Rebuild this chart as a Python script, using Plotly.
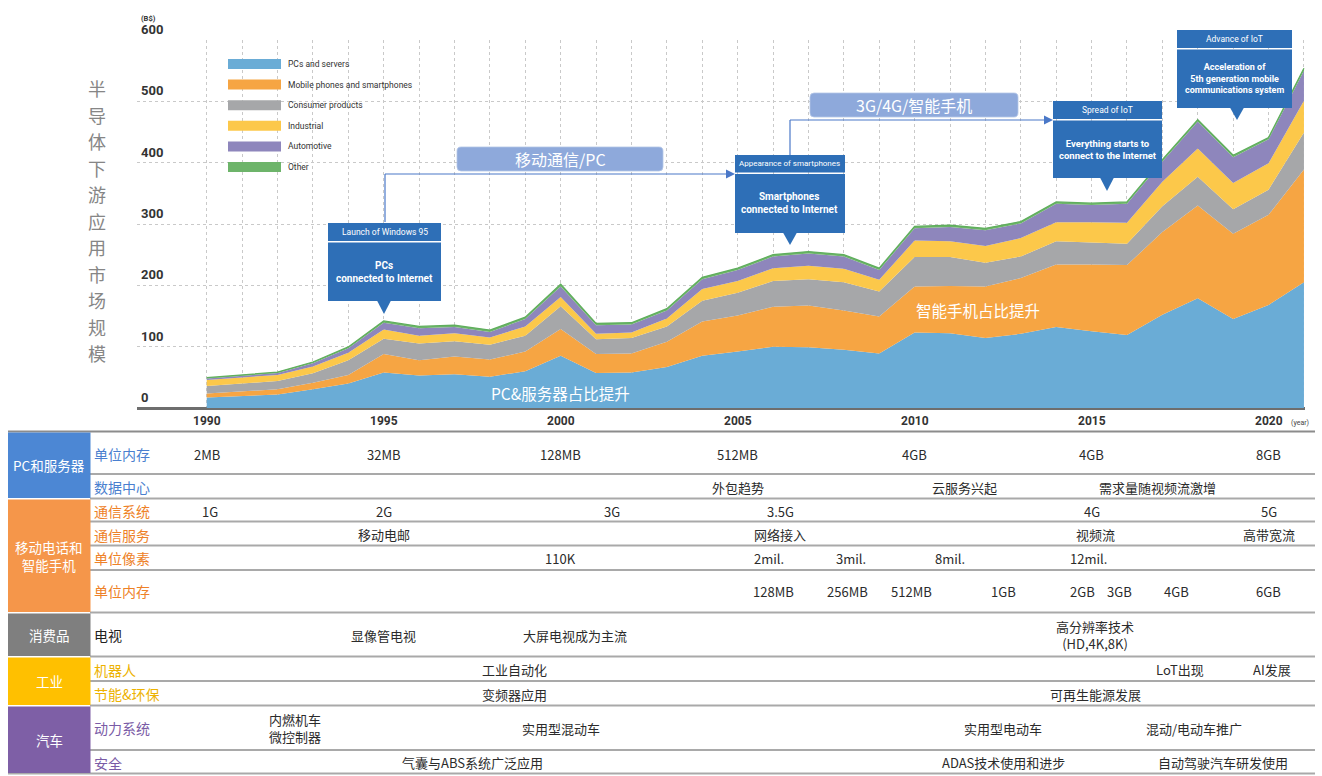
import plotly.graph_objects as go

W, H = 1322, 776


def X(px):
    return px / W


def Y(py):
    return 1 - py / H


# ---------------- data ----------------
years = list(range(1990, 2022))
pcs_servers = [17, 19.5, 22, 30.5, 40, 58, 53, 55, 51, 60, 85, 57, 58, 67, 85, 92, 100, 99, 95, 89,
               123, 122, 114, 121, 132, 125, 119, 152, 179, 145, 168, 205]
mobile_phones = [6.5, 7.5, 8.5, 10.5, 14, 30, 25, 29, 28, 32, 44, 31, 31, 41, 56, 59, 65, 68, 64, 60,
                 75, 77, 84, 91, 102, 109, 114, 135, 151, 139, 147, 184]
consumer = [12.5, 13, 13.5, 15.5, 24, 25, 27, 25, 24, 26, 37, 24, 25, 25, 34, 37, 42, 43, 46, 41,
            48, 47, 39, 35, 38, 36, 35, 42, 47, 40, 41, 60]
industrial = [9.5, 10, 10, 11, 12, 15, 13, 13, 12, 15, 15, 9, 9, 13, 19, 19, 21, 22, 22, 19,
              27, 26, 27, 30, 31, 33, 34, 40, 46, 43, 43, 52]
automotive = [2.5, 2.5, 3, 5.5, 7.5, 11, 12, 10, 9, 12, 17, 14, 13, 13, 16, 18, 19, 20, 20, 16,
              20, 23, 26, 24, 30, 28, 31, 33, 44, 42, 39, 49]
other = [1.5, 1.5, 1.5, 2, 2, 3, 3, 3, 3, 3, 4, 3, 3, 3, 3, 3, 3, 3, 3, 3,
         3, 3, 3, 3, 3, 3, 3, 3, 3, 3, 3, 4]

series_names = ["PCs and servers", "Mobile phones and smartphones", "Consumer products",
                "Industrial", "Automotive", "Other"]
series_values = [pcs_servers, mobile_phones, consumer, industrial, automotive, other]
series_colors = ["#6AACD6", "#F6A543", "#A6A7A9", "#FCC84A", "#8E86BC", "#6DB46A"]

y_ticks = [0, 100, 200, 300, 400, 500, 600]
x_label_years = [1990, 1995, 2000, 2005, 2010, 2015, 2020]

title_text = "半导体下游应用市场规模"

# table rows: (year position, text)
pc_memory = [(1990, "2MB"), (1995, "32MB"), (2000, "128MB"), (2005, "512MB"),
             (2010, "4GB"), (2015, "4GB"), (2020, "8GB")]
data_center = [(2005, "外包趋势"), (2011.4, "云服务兴起"), (2016.85, "需求量随视频流激增")]
comm_system = [(1990.1, "1G"), (1995, "2G"), (2001.45, "3G"), (2006.2, "3.5G"),
               (2015, "4G"), (2020, "5G")]
comm_service = [(1995, "移动电邮"), (2006.2, "网络接入"), (2015.1, "视频流"), (2020, "高带宽流")]
pixels = [(2000, "110K"), (2005.9, "2mil."), (2008.2, "3mil."), (2011, "8mil."), (2014.9, "12mil.")]
phone_memory = [(2006, "128MB"), (2008.1, "256MB"), (2009.9, "512MB"), (2012.5, "1GB"),
                (2014.75, "2GB"), (2015.8, "3GB"), (2017.4, "4GB"), (2020, "6GB")]
tv = [(1995, "显像管电视"), (2000.4, "大屏电视成为主流"), (2015.1, "高分辨率技术<br>(HD,4K,8K)")]
robot = [(1998.7, "工业自动化"), (2017.5, "LoT出现"), (2020.1, "AI发展")]
energy = [(1998.7, "变频器应用"), (2015.1, "可再生能源发展")]
powertrain = [(1992.5, "内燃机车<br>微控制器"), (2000, "实用型混动车"), (2012.5, "实用型电动车"),
              (2017.9, "混动/电动车推广")]
safety = [(1997.5, "气囊与ABS系统广泛应用"), (2012.5, "ADAS技术使用和进步"), (2018.7, "自动驾驶汽车研发使用")]

# ---------------- styles ----------------
NARROW = "Roboto, Liberation Sans, sans-serif"
CJK = "Noto Sans CJK SC, Noto Sans, sans-serif"
CALLOUT_BLUE = "#2E6FB7"
ARROW_BLUE = "#4A78C8"
LIGHT_BOX = "#8EA9DB"

fig = go.Figure()

for name, vals, color in zip(series_names, series_values, series_colors):
    is_top = name == "Other"
    fig.add_trace(go.Scatter(
        x=years, y=vals, name=name, mode="lines", stackgroup="one",
        line=dict(width=1.3 if is_top else 0, color="#5FAE5C" if is_top else color),
        fillcolor=color, hoverinfo="skip", showlegend=False,
    ))

shapes = []
ann = []

# ---------- y tick labels ----------
for v in y_ticks:
    ann.append(dict(x=X(139), xref="paper", y=v, yref="y", yanchor="bottom", xanchor="left",
                    yshift=1, text="<b>%d</b>" % v, showarrow=False,
                    font=dict(family=NARROW, size=13, color="#333333")))
ann.append(dict(x=X(139), xref="paper", y=Y(18), yref="paper", xanchor="left", yanchor="middle",
                text="<b>(B$)</b>", showarrow=False, font=dict(family=NARROW, size=7.5, color="#333333")))

# ---------- x labels ----------
for yr in x_label_years:
    ann.append(dict(x=yr, xref="x", y=Y(421), yref="paper", yanchor="middle", xanchor="center",
                    text="<b>%d</b>" % yr, showarrow=False,
                    font=dict(family=NARROW, size=12, color="#333333")))
ann.append(dict(x=X(1300), xref="paper", y=Y(423), yref="paper", yanchor="middle", xanchor="center",
                text="(year)", showarrow=False, font=dict(family=NARROW, size=7, color="#444444")))

# ---------- vertical title (one character per line) ----------
for i, ch in enumerate(title_text):
    ann.append(dict(x=X(97), xref="paper", y=Y(88 + i * 26.5), yref="paper", xanchor="center",
                    yanchor="middle", text=ch, showarrow=False, borderpad=0,
                    font=dict(family=CJK, size=18, color="#868686")))

# ---------- legend ----------
for i, (name, color) in enumerate(zip(series_names, series_colors)):
    cy = 64 + i * 20.6
    shapes.append(dict(type="rect", xref="paper", yref="paper", x0=X(228), x1=X(281),
                       y0=Y(cy + 5), y1=Y(cy - 5), fillcolor=color, line=dict(width=0), layer="above"))
    ann.append(dict(x=X(286), xref="paper", y=Y(cy), yref="paper", xanchor="left", yanchor="middle",
                    text=name, showarrow=False, font=dict(family=NARROW, size=8.5, color="#333333")))


# ---------- rounded light boxes ----------
def rrect(x0, y0, x1, y1, r):
    pts = [
        ("M", [(x0 + r, y0)]), ("L", [(x1 - r, y0)]), ("Q", [(x1, y0), (x1, y0 + r)]),
        ("L", [(x1, y1 - r)]), ("Q", [(x1, y1), (x1 - r, y1)]), ("L", [(x0 + r, y1)]),
        ("Q", [(x0, y1), (x0, y1 - r)]), ("L", [(x0, y0 + r)]), ("Q", [(x0, y0), (x0 + r, y0)]),
    ]
    s = ""
    for cmd, pp in pts:
        s += cmd + " " + " ".join("%.5f,%.5f" % (X(a), Y(b)) for a, b in pp) + " "
    return s + "Z"


for (x0, y0, x1, y1, label) in [(457, 147, 663, 171, "移动通信/PC"), (810, 93, 1018, 117, "3G/4G/智能手机")]:
    shapes.append(dict(type="path", xref="paper", yref="paper", path=rrect(x0, y0, x1, y1, 4),
                       fillcolor=LIGHT_BOX, line=dict(width=0.8, color="#B4C6E7"), layer="above"))
    ann.append(dict(x=X((x0 + x1) / 2), y=Y((y0 + y1) / 2 + 0.5), xref="paper", yref="paper",
                    text=label, showarrow=False, xanchor="center", yanchor="middle",
                    font=dict(family=CJK, size=16, color="white")))

# ---------- arrows ----------
for (vx, vy0, vy1, hx1) in [(385, 222, 174, 735), (790, 155, 120, 1053)]:
    shapes.append(dict(type="line", xref="paper", yref="paper", x0=X(vx), y0=Y(vy0), x1=X(vx), y1=Y(vy1),
                       line=dict(color=ARROW_BLUE, width=1.2), layer="above"))
    shapes.append(dict(type="line", xref="paper", yref="paper", x0=X(vx), y0=Y(vy1), x1=X(hx1 - 7), y1=Y(vy1),
                       line=dict(color=ARROW_BLUE, width=1.2), layer="above"))
    shapes.append(dict(type="path", xref="paper", yref="paper",
                       path="M %.5f,%.5f L %.5f,%.5f L %.5f,%.5f Z" % (
                           X(hx1 - 9), Y(vy1 - 4.5), X(hx1), Y(vy1), X(hx1 - 9), Y(vy1 + 4.5)),
                       fillcolor=ARROW_BLUE, line=dict(width=0), layer="above"))


# ---------- callouts ----------
def callout(x0, x1, hy0, hy1, by1, tipx, tipy, header, body, body_size=10, header_size=8.5):
    by0 = hy1 + 1.5
    shapes.append(dict(type="rect", xref="paper", yref="paper", x0=X(x0), x1=X(x1), y0=Y(hy1), y1=Y(hy0),
                       fillcolor=CALLOUT_BLUE, line=dict(width=0), layer="above"))
    shapes.append(dict(type="rect", xref="paper", yref="paper", x0=X(x0), x1=X(x1), y0=Y(by1), y1=Y(by0),
                       fillcolor=CALLOUT_BLUE, line=dict(width=0), layer="above"))
    shapes.append(dict(type="path", xref="paper", yref="paper",
                       path="M %.5f,%.5f L %.5f,%.5f L %.5f,%.5f Z" % (
                           X(tipx - 7), Y(by1 - 0.5), X(tipx), Y(tipy), X(tipx + 7), Y(by1 - 0.5)),
                       fillcolor=CALLOUT_BLUE, line=dict(width=0), layer="above"))
    ann.append(dict(x=X((x0 + x1) / 2), y=Y((hy0 + hy1) / 2), xref="paper", yref="paper",
                    text=header, showarrow=False, xanchor="center", yanchor="middle",
                    font=dict(family=NARROW, size=header_size, color="white")))
    ann.append(dict(x=X((x0 + x1) / 2), y=Y((by0 + by1) / 2), xref="paper", yref="paper",
                    text="<b>" + body + "</b>", showarrow=False, xanchor="center", yanchor="middle",
                    font=dict(family=NARROW, size=body_size, color="white")))


callout(328, 441, 223, 241, 301, 384, 314, "Launch of Windows 95", "PCs<br>connected to Internet")
callout(735, 845, 155, 172.5, 233, 790, 245, "Appearance of smartphones", "Smartphones<br>connected to Internet",
        header_size=8)
callout(1053, 1162, 101, 119, 178, 1107, 191, "Spread of IoT", "Everything starts to<br>connect to the Internet",
        body_size=9.5)
callout(1177, 1292, 30, 48, 108, 1237, 120, "Advance of IoT",
        "Acceleration of<br>5th generation mobile<br>communications system", body_size=9)

# ---------- text inside areas ----------
ann.append(dict(x=2000, xref="x", y=Y(393), yref="paper", text="PC&服务器占比提升", showarrow=False,
                font=dict(family=CJK, size=15.5, color="white"), xanchor="center", yanchor="middle"))
ann.append(dict(x=2011.8, xref="x", y=Y(310), yref="paper", text="智能手机占比提升", showarrow=False,
                font=dict(family=CJK, size=15.5, color="white"), xanchor="center", yanchor="middle"))

# ---------- table ----------
LINE_C = "#A9A9A9"
shapes.append(dict(type="line", xref="paper", yref="paper", x0=X(8), x1=X(1315), y0=Y(431.5), y1=Y(431.5),
                   line=dict(color="#8C8C8C", width=2)))
for ly in [474, 498.5, 521.5, 545.5, 570, 612.5, 656.5, 681, 705.5, 750, 773.5]:
    shapes.append(dict(type="line", xref="paper", yref="paper", x0=X(90), x1=X(1315), y0=Y(ly), y1=Y(ly),
                       line=dict(color=LINE_C, width=2)))
shapes.append(dict(type="line", xref="paper", yref="paper", x0=X(8), x1=X(90), y0=Y(773.5), y1=Y(773.5),
                   line=dict(color=LINE_C, width=2)))

groups = [
    ("PC和服务器", 432.5, 498, "#4C87D4"),
    ("移动电话和<br>智能手机", 499.5, 612, "#F5964A"),
    ("消费品", 613.5, 656, "#7F7F7F"),
    ("工业", 657.5, 705, "#FFC000"),
    ("汽车", 706.5, 773, "#7E5FA6"),
]
for label, gy0, gy1, col in groups:
    shapes.append(dict(type="rect", xref="paper", yref="paper", x0=X(8), x1=X(90.5), y0=Y(gy1), y1=Y(gy0),
                       fillcolor=col, line=dict(width=0)))
    ann.append(dict(x=X(49), y=Y((gy0 + gy1) / 2), xref="paper", yref="paper", text=label, showarrow=False,
                    xanchor="center", yanchor="middle",
                    font=dict(family=CJK, size=13.5, color="white")))

rows = [
    ("单位内存", 454, "#4A7FCF", pc_memory),
    ("数据中心", 487, "#4A7FCF", data_center),
    ("通信系统", 511, "#EE8127", comm_system),
    ("通信服务", 534.5, "#EE8127", comm_service),
    ("单位像素", 558, "#EE8127", pixels),
    ("单位内存", 591, "#EE8127", phone_memory),
    ("电视", 635, "#222222", tv),
    ("机器人", 669.5, "#EDB200", robot),
    ("节能&环保", 694, "#EDB200", energy),
    ("动力系统", 728, "#7A5BA6", powertrain),
    ("安全", 762.5, "#7A5BA6", safety),
]
for label, ry, col, items in rows:
    ann.append(dict(x=X(92), y=Y(ry), xref="paper", yref="paper", text=label, showarrow=False,
                    xanchor="left", yanchor="middle", font=dict(family=CJK, size=14, color=col)))
    for yr, txt in items:
        ann.append(dict(x=yr, xref="x", y=Y(ry), yref="paper", text=txt, showarrow=False,
                        xanchor="center", yanchor="middle",
                        font=dict(family=CJK, size=13, color="#2B2B2B")))

fig.update_layout(
    width=W, height=H, autosize=False,
    margin=dict(l=0, r=0, t=0, b=0),
    paper_bgcolor="white", plot_bgcolor="white",
    showlegend=False,
    xaxis=dict(domain=[X(137), X(1305)], range=[1988.03, 2021.03], tickmode="array", tickvals=years,
               showticklabels=False, ticks="", showgrid=True, gridcolor="#C9C9C9", griddash="dot",
               gridwidth=1, zeroline=False, showline=False, fixedrange=True),
    yaxis=dict(domain=[Y(408), Y(40)], range=[0, 600], tickmode="array", tickvals=y_ticks,
               showticklabels=False, ticks="", showgrid=True, gridcolor="#C9C9C9", griddash="dot",
               gridwidth=1, zeroline=True, zerolinecolor="#6E6E6E", zerolinewidth=2.5,
               showline=False, fixedrange=True),
    shapes=shapes,
    annotations=ann,
)

fig.write_html("out.html", config={"displayModeBar": False},
               post_script="document.body.style.margin='0';document.body.style.overflow='hidden';")
